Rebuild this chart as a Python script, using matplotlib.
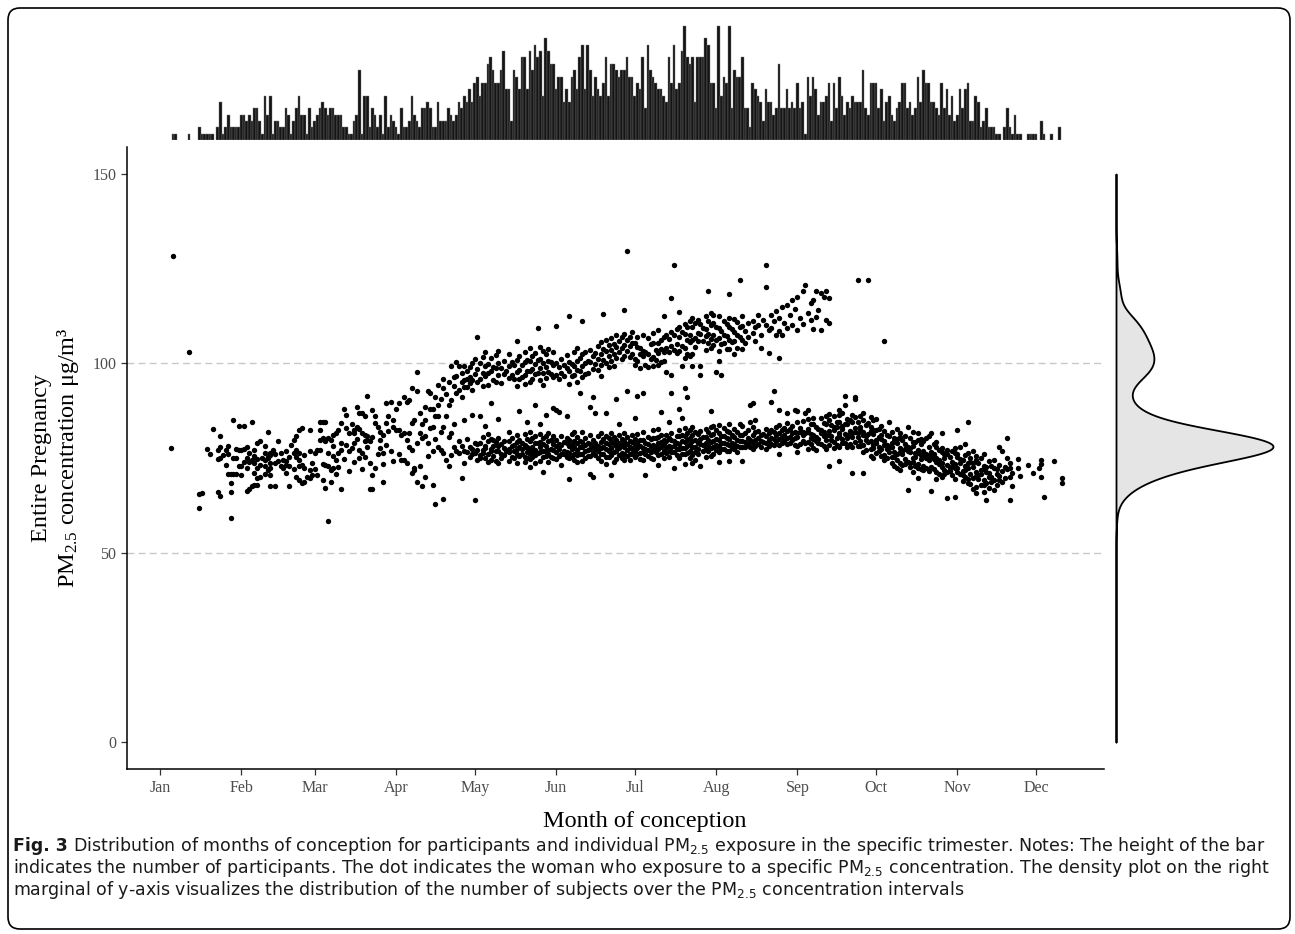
import matplotlib
matplotlib.use("Agg")
import matplotlib.pyplot as plt
import numpy as np
from matplotlib import font_manager
from matplotlib.font_manager import FontProperties
from matplotlib.patches import FancyBboxPatch

plt.rcParams["font.family"] = "Liberation Serif"
plt.rcParams["mathtext.default"] = "regular"

# ---- data ------------------------------------------------------------------
month_labels = ["Jan", "Feb", "Mar", "Apr", "May", "Jun",
                "Jul", "Aug", "Sep", "Oct", "Nov", "Dec"]
month_starts = [0, 31, 59, 90, 120, 151, 181, 212, 243, 273, 304, 334]

# participants conceived per day (top marginal), first bar = day 5
first_count_day = 5
conception_counts = [
    1, 1, 0, 0, 0, 0, 1, 0, 0, 0, 2, 1, 1, 1, 1, 1, 0,
    2, 6, 1, 2, 4, 2, 2, 2, 2, 4, 4, 3, 4, 3, 5, 5, 3, 1, 7, 4, 7, 1, 3, 3, 2, 2,
    5, 4, 1, 3, 5, 7, 4, 4, 1, 5, 2, 3, 4, 5, 6, 5, 4, 5, 5, 4, 4, 4, 2, 2, 1, 1,
    3, 4, 11, 1, 7, 7, 2, 5, 4, 2, 4, 1, 7, 2,
    4, 3, 2, 1, 5, 2, 2, 3, 7, 4, 3, 2, 5, 5, 6, 5, 2, 2, 6, 3, 3, 3, 5, 4, 3, 4,
    6, 5, 7, 6, 8, 6, 9, 10, 7, 9, 9, 12, 13, 11, 9, 9, 11, 14, 8, 8, 3, 11, 10, 8,
    13, 13, 8, 14, 11, 15, 13, 14, 7, 16, 14, 12, 12, 8, 10, 10, 6, 8, 6, 10, 11, 8,
    13, 15, 8, 15, 11, 7, 10, 8, 7, 9, 13, 7, 12,
    12, 11, 10, 11, 11, 13, 10, 10, 7, 9, 8, 13, 5, 15, 11, 10, 9, 8, 8, 7, 6, 13,
    9, 15, 8, 9, 14, 18, 13, 12, 13, 6, 13, 13, 13, 16, 15, 9, 9, 5, 18, 7, 10, 9,
    18, 5, 11, 10, 10, 13, 5, 5, 2, 9, 8, 7, 6, 3, 8, 6, 6, 4, 5, 12, 5, 5, 8, 5,
    6, 5, 9, 5, 6, 1, 10, 7, 10, 8, 4, 6, 6, 7, 9, 3, 9, 5,
    10, 7, 4, 6, 5, 7, 6, 6, 6, 11, 5, 4, 9, 9, 9, 5, 8, 3, 6, 7, 4, 3, 5, 6, 9, 9,
    5, 6, 4, 5, 10, 6, 11, 9, 9, 6, 6, 5, 4, 9, 5, 8, 4, 7, 3, 4, 8, 5, 8, 9, 3, 3,
    7, 6, 2, 3, 5, 2, 2, 2, 1, 1,
    0, 2, 5, 2, 1, 4, 1, 1, 0, 0, 1, 1, 1, 1, 0, 3, 1, 0, 0, 1, 0, 0, 2,
]

# PM2.5 (ug/m3) of each woman, one inner list per day of the month
jan_pm = [
    [], [], [], [], [77.6], [128.5], [], [], [], [], [], [103.0], [], [], [],
    [61.8, 65.5], [65.9], [], [77.3], [76.1], [82.7], [], [74.7, 77.2, 66.1],
    [74.9, 78.0, 80.9, 65.0], [75.8], [77.2, 73.1], [78.2, 70.8, 76.0],
    [59.3, 68.4, 70.8, 66.1], [85.1, 70.8, 75.0], [70.8, 75.0, 77.3],
    [72.8, 77.2, 83.4],
]
feb_pm = [
    [77.2, 72.8, 70.5], [83.5, 77.3, 74.0], [78.0, 72.3, 66.4, 75.1],
    [66.8, 76.3, 73.9], [84.6, 74.5, 67.6], [77.2, 73.6, 67.9, 71.0, 75.6],
    [79.1, 74.7, 69.7, 67.9, 72.4], [79.4, 73.2, 70.1], [75.0],
    [76.3, 72.8, 74.5, 70.9, 78.3], [82.0, 75.4, 71.9, 74.9],
    [76.3, 72.3, 73.6, 67.5, 75.8, 70.4], [77.2], [73.6, 67.5, 76.0],
    [79.6, 74.2], [76.3, 72.8], [74.5, 72.3], [73.2, 74.1, 76.8, 71.0],
    [72.8, 67.5, 75.3], [78.5], [79.8, 76.3, 72.0], [80.7, 77.2, 75.4, 70.0],
    [82.4, 74.5, 72.8, 69.2, 76.4], [82.9, 68.4, 73.1], [68.8, 72.3, 75.9],
    [70.1], [82.4, 69.7, 71.9, 77.0], [70.6, 73.6],
]
mar_pm = [
    [76.3, 72.0], [77.2, 70.4], [82.4, 79.8, 84.4, 77.2], [80.3, 84.4, 69.2, 73.5],
    [79.4, 73.2, 67.0, 84.4], [80.3, 72.8, 58.5, 76.4], [79.8, 71.9, 68.8],
    [81.1, 72.3, 75.5, 78.1], [81.6, 74.5, 70.8], [82.4, 76.3, 72.6],
    [77.2, 66.8, 84.2, 79.0], [87.9, 74.8], [86.4, 82.9, 78.5], [81.6, 76.8, 71.5],
    [84.0, 77.7], [81.6, 82.4, 78.9, 73.9], [83.3, 88.6, 80.1],
    [82.6, 77.2, 86.8, 75.0], [81.6, 86.8, 76.3, 72.0], [81.1, 86.0, 75.4, 79.6],
    [80.7, 79.8, 91.4, 77.9], [79.4, 66.8, 73.8], [87.7, 70.6, 66.8, 80.5],
    [86.0, 84.2, 72.3], [83.3, 76.2], [82.0, 79.8, 77.6], [68.8, 76.3, 81.0, 73.4],
    [89.5, 84.2, 78.4], [86.0, 82.1], [89.7, 77.0], [85.1, 83.3, 74.2],
]
apr_pm = [
    [82.4, 88.0], [89.5, 82.4, 76.0], [74.5, 81.0], [91.2, 81.6, 74.5],
    [89.9, 79.8, 73.6], [90.4, 81.6, 77.8], [93.4, 84.2, 77.2, 71.0],
    [85.1, 72.3, 71.9], [97.8, 92.6, 68.8, 79.0], [72.8, 86.8, 81.6],
    [67.7, 80.2, 84.0], [85.1, 88.6, 80.7, 70.1], [92.6, 78.9, 75.5],
    [92.1, 82.9, 88.0], [87.9, 83.3, 67.9, 76.8], [91.2, 86.1, 62.9, 80.0],
    [89.0, 94.3, 86.1, 78.0], [77.2, 82.0, 90.5], [93.4, 83.3, 64.1, 76.3, 96.0],
    [86.1, 74.5, 92.0], [95.2, 72.8, 80.5, 89.0], [99.2, 81.6, 75.8, 90.4],
    [96.5, 78.0, 94.0, 84.0], [100.5, 92.1, 77.0, 96.8], [99.2, 93.0, 76.3, 79.5],
    [97.4, 91.2, 69.7, 95.0, 78.2], [95.6, 73.6, 99.2, 93.9, 77.0, 85.0],
    [93.9, 98.0, 76.5, 96.0, 80.0], [96.5, 75.4, 94.8, 99.0, 78.0],
    [100.0, 77.5, 95.5, 93.0, 76.0, 86.5],
]
may_pm = [
    [101.3, 97.2, 79.1, 76.4, 63.8], [107.1, 98.5, 95.1, 78.6, 77.2, 74.6],
    [100.2, 96.0, 86.0, 78.9, 75.8, 74.9], [101.8, 97.4, 94.0, 80.6, 77.1, 76.3],
    [102.9, 99.3, 96.8, 83.5, 78.2, 77.6, 75.0], [99.9, 97.6, 94.2, 81.3, 79.4, 76.0, 73.9],
    [101.5, 98.0, 89.5, 80.1, 77.4, 76.8, 74.4], [99.1, 95.6, 79.8, 78.3, 75.5],
    [102.3, 98.9, 95.0, 79.2, 77.0, 74.1], [103.4, 100.1, 96.9, 85.2, 80.4, 78.1, 76.9, 73.6],
    [98.9, 94.7, 78.8, 76.2, 75.0], [100.7, 97.3, 79.4, 77.7, 75.9], [97.9, 77.0],
    [102.6, 99.2, 96.1, 82.0, 79.6, 77.3, 76.5, 74.3], [100.4, 97.0, 80.3, 78.1, 75.2],
    [99.5, 95.9, 78.4, 76.9, 75.1],
    [105.8, 100.9, 97.8, 94.0, 81.0, 79.3, 77.5, 76.1, 73.7],
    [101.9, 98.3, 95.8, 87.5, 79.9, 78.0, 75.6], [99.6, 96.4, 79.1, 77.3, 76.0],
    [103.1, 100.3, 97.0, 94.5, 81.4, 78.5, 77.9, 75.3, 74.0],
    [101.0, 97.9, 84.6, 80.0, 77.8, 76.7, 75.0],
    [104.0, 100.7, 98.1, 95.2, 81.8, 79.6, 77.4, 76.2, 74.7, 72.6],
    [102.0, 98.6, 96.0, 80.2, 78.0, 76.6, 75.4],
    [102.7, 99.8, 97.2, 89.0, 80.9, 79.0, 77.1, 75.9, 73.8], [109.3, 101.0, 97.6, 78.9, 76.3],
    [104.4, 101.2, 98.7, 95.6, 84.0, 81.3, 79.2, 77.9, 76.5, 74.2],
    [103.3, 100.0, 97.5, 94.4, 80.3, 78.6, 77.0, 75.2, 71.3],
    [102.5, 99.1, 96.2, 86.5, 80.7, 78.3, 76.8, 75.5],
    [103.8, 100.6, 97.7, 81.5, 79.4, 77.2, 76.0, 74.0], [100.5, 97.1, 79.7, 77.5, 75.3],
    [103.0, 99.5, 96.5, 88.2, 80.9, 78.7, 77.1, 75.0],
]
jun_pm = [
    [110.0, 100.1, 97.0, 87.7, 79.8, 78.2, 76.5, 74.8], [99.0, 95.8, 87.3, 78.7, 77.4, 75.6],
    [101.2, 97.6, 80.9, 78.5, 76.0, 73.2], [99.7, 96.6, 79.3, 77.0, 76.1],
    [102.1, 98.8, 86.0, 80.4, 78.9, 76.7, 75.2],
    [112.4, 100.4, 97.9, 94.6, 79.9, 78.1, 76.4, 75.0, 69.5],
    [99.9, 96.8, 81.3, 78.8, 77.5, 75.4], [102.9, 99.4, 96.9, 82.0, 79.5, 77.8, 76.0, 74.5],
    [104.1, 100.7, 98.2, 95.1, 80.6, 78.9, 77.2, 75.7, 73.9],
    [101.4, 98.1, 92.1, 79.6, 77.9, 76.2],
    [111.3, 102.5, 99.2, 96.4, 81.8, 79.2, 78.0, 76.1, 74.3],
    [103.0, 100.0, 97.1, 80.4, 78.4, 76.9, 75.0], [100.6, 97.5, 79.0, 77.2, 75.6],
    [103.6, 100.4, 88.6, 81.1, 78.6, 77.5, 75.5, 70.8],
    [101.9, 98.6, 91.2, 79.7, 78.0, 76.3, 70.0], [102.7, 99.8, 86.9, 79.1, 77.4, 75.8],
    [104.5, 101.1, 98.3, 80.7, 78.3, 77.0, 75.1],
    [105.6, 102.6, 99.5, 96.8, 81.5, 79.3, 77.7, 76.0, 74.1],
    [113.0, 103.8, 100.9, 80.0, 77.9, 76.2],
    [106.1, 103.2, 100.0, 86.9, 80.9, 79.0, 77.3, 75.4, 73.5],
    [104.9, 101.9, 99.1, 80.2, 78.6, 76.8, 75.3],
    [106.7, 103.5, 100.7, 81.6, 79.4, 77.7, 75.9, 70.6],
    [105.2, 102.4, 99.4, 80.5, 78.8, 76.6, 73.9],
    [107.4, 104.3, 101.5, 90.6, 79.8, 78.1, 76.9, 74.8],
    [105.9, 102.9, 84.0, 81.2, 79.1, 77.6, 75.7], [106.9, 104.1, 101.2, 80.1, 78.5, 76.3, 75.0],
    [114.1, 107.8, 104.9, 102.0, 81.7, 79.6, 77.8, 76.2, 74.4],
    [129.7, 106.2, 103.4, 92.7, 80.6, 78.7, 77.1, 75.6],
    [107.1, 104.5, 101.8, 79.4, 77.9, 76.0, 74.6], [108.4, 105.4, 102.6, 81.0, 79.2, 77.4, 76.0],
]
jul_pm = [
    [105.4, 101.2, 99.6, 85.5, 80.1, 78.4, 77.0, 75.3],
    [106.9, 104.3, 100.7, 91.5, 81.3, 79.0, 77.7, 76.2],
    [104.1, 102.6, 98.7, 79.7, 78.2, 76.4, 74.7],
    [107.5, 103.4, 101.9, 92.1, 81.9, 79.8, 77.6, 76.5, 74.4],
    [103.0, 99.7, 78.9, 77.3, 76.0, 70.4], [106.6, 102.6, 99.0, 80.6, 78.7, 77.2, 75.6],
    [105.2, 101.1, 80.0, 78.1, 76.6, 75.0],
    [108.1, 105.5, 101.8, 99.4, 82.3, 80.2, 78.4, 77.1, 74.8],
    [103.6, 100.9, 80.4, 78.0, 76.5],
    [108.9, 105.3, 102.8, 99.6, 82.7, 80.5, 78.9, 77.5, 75.9, 73.2],
    [106.2, 103.9, 100.3, 87.3, 81.0, 79.3, 77.8, 76.0],
    [112.6, 106.9, 103.1, 100.6, 79.8, 78.5, 76.9, 74.9],
    [107.6, 104.0, 97.8, 81.2, 79.6, 77.9, 76.3], [106.4, 102.9, 84.6, 80.3, 78.2, 76.8, 75.2],
    [117.2, 108.3, 104.6, 97.0, 92.1, 81.6, 79.9, 78.0, 76.6],
    [126.0, 107.5, 103.6, 79.5, 78.3, 76.7, 72.3], [109.2, 105.1, 102.8, 80.8, 79.1, 77.4, 75.7],
    [113.7, 109.5, 107.0, 103.2, 88.0, 82.4, 80.7, 78.8, 77.3, 75.0],
    [108.2, 104.7, 99.2, 85.5, 81.1, 79.4, 77.7, 76.0],
    [110.5, 107.9, 104.1, 101.5, 93.4, 83.0, 80.9, 79.2, 77.6, 76.1, 73.4],
    [109.6, 106.2, 102.4, 91.2, 81.5, 79.7, 78.1, 76.4],
    [111.3, 107.4, 105.6, 101.9, 82.5, 80.4, 78.7, 77.0, 75.1],
    [112.0, 109.6, 106.3, 102.5, 99.4, 83.3, 81.2, 79.5, 77.8, 75.8, 73.6],
    [110.7, 106.8, 104.3, 81.9, 79.8, 78.0, 76.7, 74.5],
    [111.6, 108.1, 105.9, 81.3, 79.0, 77.4, 76.1],
    [110.4, 107.8, 99.2, 97.0, 82.2, 80.1, 78.6, 72.8], [109.4, 105.9, 80.6, 78.4, 76.9],
    [112.6, 109.2, 107.3, 103.6, 82.8, 80.6, 79.0, 77.6, 75.3],
    [119.2, 111.2, 107.7, 105.4, 82.0, 79.8, 78.2, 76.8],
    [113.4, 110.1, 106.5, 104.1, 87.5, 83.1, 81.0, 79.3, 77.7, 75.6],
    [112.9, 110.8, 107.6, 104.9, 83.5, 81.4, 79.6, 78.0, 76.0],
]
aug_pm = [
    [109.7, 106.1, 97.8, 82.3, 80.0, 78.4, 77.1],
    [112.4, 109.4, 106.8, 103.3, 100.6, 83.7, 81.6, 79.9, 78.2, 76.5, 74.0],
    [108.6, 105.0, 97.0, 80.8, 78.9, 77.5], [111.1, 107.5, 105.3, 82.9, 80.7, 79.0, 77.4],
    [110.3, 107.2, 103.9, 82.1, 80.2, 78.6, 76.9],
    [118.4, 112.0, 109.6, 106.3, 103.8, 84.0, 81.9, 80.1, 78.5, 76.8, 74.3],
    [109.0, 105.6, 81.2, 79.1, 77.6], [111.7, 108.4, 106.0, 102.6, 82.6, 80.5, 78.8, 77.3],
    [110.9, 107.4, 104.1, 81.8, 79.7, 78.1, 76.6], [122.0, 109.6, 107.0, 84.0, 81.0, 79.4, 77.8],
    [112.4, 109.8, 106.2, 103.7, 83.4, 81.1, 79.5, 77.9, 74.1],
    [108.5, 105.3, 81.5, 79.3, 77.8], [110.8, 107.1, 82.4, 80.3, 78.6], [89.0, 84.6, 79.8, 78.0],
    [111.3, 108.0, 89.5, 83.2, 81.0, 79.0, 77.5], [109.5, 105.9, 85.1, 81.8, 79.9, 78.3],
    [112.9, 110.2, 82.2, 80.4, 78.7], [107.5, 104.2, 81.1, 79.5, 77.9], [111.5, 81.4, 79.3],
    [126.0, 120.3, 110.2, 82.8, 80.9, 79.1, 77.4], [108.7, 102.7, 81.6, 79.8, 78.1],
    [112.7, 109.3, 89.9, 82.3, 80.4, 78.8], [111.2, 92.6, 82.0, 80.1, 78.5],
    [113.8, 107.5, 83.1, 81.2, 79.6], [112.0, 108.6, 101.4, 87.8, 83.8, 81.7, 80.0, 78.4, 76.2],
    [114.9, 107.6, 82.3, 80.5, 78.9], [110.8, 83.0, 81.1, 79.4],
    [115.4, 109.3, 87.0, 84.2, 82.2, 80.4, 78.8], [112.8, 82.6, 80.6, 79.0],
    [116.7, 110.1, 83.5, 81.6, 79.9], [114.3, 87.6, 82.0, 80.2, 78.5],
]
sep_pm = [
    [117.5, 108.8, 87.5, 84.4, 81.7, 80.6, 78.1, 76.5], [112.0, 83.0, 81.9, 78.8],
    [119.0, 110.5, 84.8, 82.0, 81.1, 79.4], [120.6, 86.8, 81.5, 78.9],
    [113.3, 87.7, 85.4, 82.7, 81.9, 79.2, 77.4], [111.5, 116.0, 84.1, 81.3, 80.4, 78.6],
    [116.8, 109.2, 85.5, 83.9, 81.0, 80.1, 77.7], [119.2, 112.3, 83.3, 80.6, 79.6, 77.1],
    [114.1, 82.6, 80.0, 79.1], [118.7, 108.8, 85.7, 82.4, 81.6, 78.7],
    [117.5, 84.3, 81.8, 80.9, 78.2], [119.0, 111.5, 86.1, 84.0, 81.2, 79.9, 77.5],
    [117.2, 110.6, 86.6, 85.0, 82.1, 81.0, 78.4, 72.8], [83.8, 80.7, 79.8],
    [86.0, 83.1, 82.3, 79.3, 77.6], [84.5, 83.3, 80.2, 78.5],
    [87.7, 86.3, 84.5, 81.7, 80.8, 78.0, 74.1], [86.9, 83.6, 82.7, 80.0, 78.9],
    [91.5, 89.0, 84.0, 81.4, 79.0], [85.2, 83.9, 81.0, 80.3, 77.8], [85.0, 82.2, 81.2, 78.6],
    [86.4, 84.6, 81.6, 80.6, 77.9, 71.0], [91.2, 90.6, 85.8, 82.9, 81.9, 79.2],
    [122.1, 84.6, 81.5, 80.5, 78.1], [86.1, 83.2, 82.4, 79.5, 78.3],
    [86.8, 85.1, 82.0, 81.1, 78.4, 76.7, 71.0], [83.7, 80.8, 79.9, 77.2],
    [122.1, 84.3, 81.3, 79.2], [85.9, 83.1, 82.2, 79.6, 77.3, 75.6],
    [85.0, 82.5, 81.4, 78.5, 77.6, 74.9],
]
oct_pm = [
    [85.3, 82.4, 79.9, 79.0, 76.4], [82.8, 80.6, 77.9, 76.9], [83.6, 81.2, 80.1, 77.4, 75.6],
    [105.9, 82.2, 79.5, 78.4, 75.8, 74.4], [81.0, 78.5, 77.4, 74.9], [84.6, 80.7, 77.8, 76.7],
    [81.8, 79.0, 78.0, 75.3, 73.6], [80.4, 79.4, 76.5, 75.4, 72.8],
    [82.7, 80.1, 79.1, 76.2, 74.6, 72.3], [81.5, 80.5, 77.6, 76.6, 73.8, 71.9],
    [79.7, 77.0, 76.0, 73.3], [80.9, 78.6, 77.5, 74.7, 73.5], [83.2, 78.0, 76.9, 73.9, 66.6],
    [80.2, 77.7, 76.6, 73.7, 72.6], [81.8, 79.2, 78.1, 75.1, 74.0, 71.2],
    [79.3, 76.3, 75.2, 72.9], [81.6, 79.9, 77.2, 76.3, 73.5, 72.5, 69.7],
    [80.0, 78.7, 75.8, 74.7, 72.1], [79.5, 76.8, 75.7, 72.9, 71.8], [80.3, 76.1, 75.0, 72.4],
    [80.7, 78.0, 75.5, 74.4, 71.6], [81.6, 76.6, 75.6, 72.7, 66.4], [78.6, 76.0, 74.8, 72.0],
    [79.3, 77.8, 75.1, 74.0, 71.3, 69.4], [77.2, 74.5, 73.4, 70.7],
    [81.6, 77.6, 76.5, 73.7, 72.6, 70.0], [76.2, 74.9, 71.9, 70.9],
    [77.1, 76.0, 73.2, 71.4, 64.4], [75.3, 72.5, 71.5], [76.8, 73.9, 72.9, 70.5],
    [77.6, 76.4, 73.5, 72.4, 69.6, 64.6],
]
nov_pm = [
    [82.3, 76.2, 75.2, 72.4, 71.2], [77.9, 74.8, 73.8, 70.8], [74.6, 71.5, 70.5, 68.9],
    [78.7, 75.7, 72.9, 71.8, 69.9], [84.6, 76.4, 73.6, 72.5, 69.6, 68.4],
    [75.0, 73.9, 70.9, 68.1], [76.8, 73.7, 72.6, 69.7, 66.8],
    [75.6, 74.4, 71.4, 70.3, 67.4, 65.7], [73.6, 70.6, 69.4], [74.9, 71.9, 70.9, 67.9],
    [76.2, 73.0, 72.0, 69.1, 68.0, 66.0], [72.6, 71.4, 68.5, 63.8], [74.2, 71.1, 70.1, 67.1],
    [72.9, 69.9, 68.7], [74.4, 72.3, 69.3, 66.6], [72.1, 70.9, 67.8], [78.0, 73.2, 70.2, 69.1],
    [77.0, 71.6, 68.6], [72.7, 69.7], [80.2, 75.0, 72.0], [73.6, 72.3, 70.0, 63.9],
    [71.0, 67.5], [], [74.7, 72.3], [70.3], [], [], [73.2], [], [71.0],
]
dec_pm = [
    [], [72.3], [74.5, 73.4, 69.9], [64.8], [], [], [], [74.3], [], [], [69.7, 68.4],
]
months_pm = [jan_pm, feb_pm, mar_pm, apr_pm, may_pm, jun_pm,
             jul_pm, aug_pm, sep_pm, oct_pm, nov_pm, dec_pm]

caption_lines = [
    [("Fig. 3", "bold"),
     (" Distribution of months of conception for participants and individual PM$_{2.5}$"
      " exposure in the specific trimester. Notes: The height of the bar", "normal")],
    [("indicates the number of participants. The dot indicates the woman who exposure to a"
      " specific PM$_{2.5}$ concentration. The density plot on the right", "normal")],
    [("marginal of y-axis visualizes the distribution of the number of subjects over the"
      " PM$_{2.5}$ concentration intervals", "normal")],
]

# ---- flatten the per-day lists ---------------------------------------------
days, pm = [], []
for start, month in zip(month_starts, months_pm):
    for i, vals in enumerate(month):
        days += [start + i] * len(vals)
        pm += vals
days = np.array(days)
pm = np.array(pm)

# ---- layout in pixels -------------------------------------------------------
W, H = 1295, 934
fig = plt.figure(figsize=(W / 100, H / 100), dpi=100)


def px_axes(left, top, right, bottom):
    return fig.add_axes([left / W, 1 - bottom / H, (right - left) / W, (bottom - top) / H])


xlim = (-12.6, 359.9)
ylim = (-7.13, 157.3)

ax = px_axes(127, 146.5, 1104, 769)
ax_top = px_axes(127, 20, 1104, 140)
ax_right = px_axes(1116, 146.5, 1292, 769)

# main scatter
for yv in (50, 100):
    ax.axhline(yv, color="#c8c8c8", lw=1.0, ls=(0, (5, 3)), zorder=0)
ax.scatter(days, pm, s=15, c="black", linewidths=0, zorder=2)
ax.set_xlim(*xlim)
ax.set_ylim(*ylim)
ax.set_xticks(month_starts)
ax.set_xticklabels(month_labels)
ax.set_yticks([0, 50, 100, 150])
for side in ("top", "right"):
    ax.spines[side].set_visible(False)
for side in ("left", "bottom"):
    ax.spines[side].set_linewidth(1.1)
ax.tick_params(direction="out", length=4.3, width=0.9, color="#333333",
               labelcolor="#4d4d4d", labelsize=11.5, pad=3.5)
ax.set_ylabel("Entire Pregnancy\nPM$_{2.5}$ concentration μg/m³", fontsize=17.5,
              linespacing=1.15)
ax.yaxis.set_label_coords(-0.047, 0.5)
fig.text(645 / W, 1 - 822 / H, "Month of conception", fontsize=17.5,
         ha="center", va="center")

# top marginal histogram
count_days = first_count_day + np.arange(len(conception_counts))
counts = np.array(conception_counts)
keep = counts > 0
ax_top.bar(count_days[keep], counts[keep], width=1.0, color="#141414",
           edgecolor="#777777", linewidth=0.3)
ax_top.set_xlim(*xlim)
ax_top.set_ylim(0, 120 / 6.35)
ax_top.axis("off")

# right marginal density (gaussian kde, R's bw.nrd0)
q75, q25 = np.percentile(pm, [75, 25])
bw = 0.9 * min(pm.std(ddof=1), (q75 - q25) / 1.34) * len(pm) ** -0.2
grid = np.linspace(0, 150, 700)
dens = np.exp(-0.5 * ((grid[:, None] - pm[None, :]) / bw) ** 2).sum(axis=1)
dens /= len(pm) * bw * np.sqrt(2 * np.pi)
ax_right.fill_betweenx(grid, 0, dens, facecolor="#e5e5e5", edgecolor="black",
                       linewidth=1.3, clip_on=False)
ax_right.set_ylim(*ylim)
ax_right.set_xlim(0, dens.max() * 176 / 157)
ax_right.axis("off")


# caption: among the usual sans families (any width), take the one whose
# width at 11 pt is closest to the original line
def weight_of(f):
    return f.weight if isinstance(f.weight, int) else font_manager.weight_dict.get(f.weight, 400)


bases = ["Open Sans", "Noto Sans", "Roboto", "Liberation Sans", "DejaVu Sans", "Lato", "Inter"]
extra_words = {"Condensed", "SemiCondensed", "ExtraCondensed", "Narrow", "Light",
               "ExtraLight", "Semi", "Extra", "Regular", "Book"}


def family_ok(name):
    for b in bases:
        if name == b or (name.startswith(b + " ") and set(name[len(b) + 1:].split()) <= extra_words):
            return True
    return False


renderer = fig.canvas.get_renderer()
target_w = 1270 - 13
candidates = [f for f in font_manager.fontManager.ttflist
              if f.style == "normal" and 300 <= weight_of(f) <= 400 and family_ok(f.name)]
best, best_w = None, None
for f in candidates:
    probe = fig.text(0, 0, caption_lines[1][0][0],
                     fontproperties=FontProperties(fname=f.fname, size=11))
    w = probe.get_window_extent(renderer).width
    probe.remove()
    if best is None or abs(w - target_w) < abs(best_w - target_w):
        best, best_w = f, w

if best is not None:
    body_prop = FontProperties(fname=best.fname)
    heavy = [f for f in font_manager.fontManager.ttflist
             if f.name == best.name and f.style == "normal" and f.stretch == best.stretch
             and weight_of(f) >= 600]
    bold_prop = FontProperties(fname=heavy[0].fname) if heavy else \
        FontProperties(family=best.name, weight="bold")
    cap_size = 11 * target_w / best_w
else:
    body_prop = FontProperties(family="Liberation Sans")
    bold_prop = FontProperties(family="Liberation Sans", weight="bold")
    cap_size = 10
body_prop.set_size(cap_size)
bold_prop.set_size(cap_size)

for line, y in zip(caption_lines, [851, 873, 895]):
    x = 13
    for txt, weight in line:
        prop = bold_prop if weight == "bold" else body_prop
        t = fig.text(x / W, 1 - y / H, txt, fontproperties=prop,
                     va="baseline", color="#1a1a1a")
        x += t.get_window_extent(renderer).width

frame = FancyBboxPatch((8, H - 929), 1282, 921, boxstyle="round,pad=0,rounding_size=12",
                       transform=None, fill=False, edgecolor="black", linewidth=1.2)
fig.add_artist(frame)

fig.savefig("out.png", dpi=100)
